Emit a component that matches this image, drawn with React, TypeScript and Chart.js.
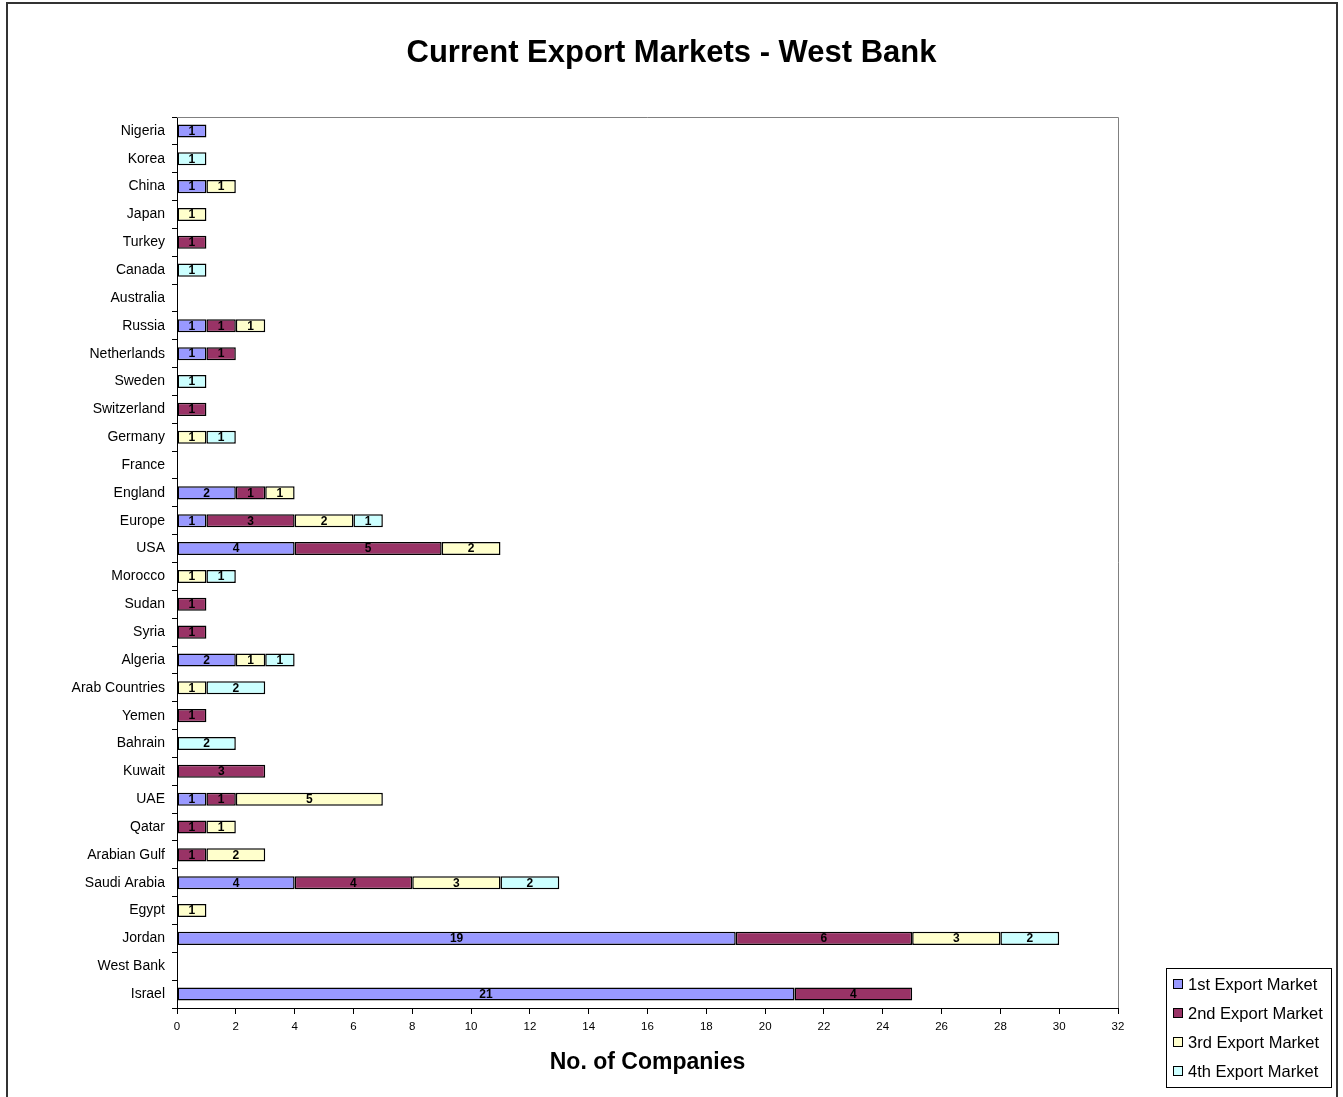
import React, { useEffect, useRef } from "react";
import { Chart, registerables } from "chart.js";

Chart.register(...registerables);

const countries = [
  "Nigeria", "Korea", "China", "Japan", "Turkey", "Canada", "Australia", "Russia",
  "Netherlands", "Sweden", "Switzerland", "Germany", "France", "England", "Europe", "USA",
  "Morocco", "Sudan", "Syria", "Algeria", "Arab Countries", "Yemen", "Bahrain", "Kuwait",
  "UAE", "Qatar", "Arabian Gulf", "Saudi Arabia", "Egypt", "Jordan", "West Bank", "Israel",
];

const firstMarket = [1, 0, 1, 0, 0, 0, 0, 1, 1, 0, 0, 0, 0, 2, 1, 4, 0, 0, 0, 2, 0, 0, 0, 0, 1, 0, 0, 4, 0, 19, 0, 21];
const secondMarket = [0, 0, 0, 0, 1, 0, 0, 1, 1, 0, 1, 0, 0, 1, 3, 5, 0, 1, 1, 0, 0, 1, 0, 3, 1, 1, 1, 4, 0, 6, 0, 4];
const thirdMarket = [0, 0, 1, 1, 0, 0, 0, 1, 0, 0, 0, 1, 0, 1, 2, 2, 1, 0, 0, 1, 1, 0, 0, 0, 5, 1, 2, 3, 1, 3, 0, 0];
const fourthMarket = [0, 1, 0, 0, 0, 1, 0, 0, 0, 1, 0, 1, 0, 0, 1, 0, 1, 0, 0, 1, 2, 0, 2, 0, 0, 0, 0, 2, 0, 2, 0, 0];

const seriesNames = ["1st Export Market", "2nd Export Market", "3rd Export Market", "4th Export Market"];
const seriesColors = ["#9999FF", "#993366", "#FFFFCC", "#CCFFFF"];
const xTicks = { min: 0, max: 32, step: 2 };

const chartTitle = "Current Export Markets - West Bank";
const xTitle = "No. of Companies";

const FONT = "Arial, 'Liberation Sans', sans-serif";

const decorPlugin = {
  id: "decor",
  beforeDraw(chart: any) {
    const ctx = chart.ctx;
    ctx.save();
    ctx.fillStyle = "#ffffff";
    ctx.fillRect(0, 0, chart.width, chart.height);
    ctx.restore();
  },
  beforeDatasetsDraw(chart: any) {
    const { ctx, chartArea } = chart;
    ctx.save();
    ctx.strokeStyle = "#808080";
    ctx.lineWidth = 1;
    ctx.beginPath();
    ctx.moveTo(chartArea.left, chartArea.top + 0.5);
    ctx.lineTo(chartArea.right + 0.5, chartArea.top + 0.5);
    ctx.lineTo(chartArea.right + 0.5, chartArea.bottom);
    ctx.stroke();
    ctx.restore();
  },
  afterDraw(chart: any) {
    const { ctx, chartArea } = chart;
    ctx.save();
    // data labels
    ctx.fillStyle = "#000";
    ctx.font = `bold 12px ${FONT}`;
    ctx.textAlign = "center";
    ctx.textBaseline = "middle";
    chart.data.datasets.forEach((ds: any, di: number) => {
      const meta = chart.getDatasetMeta(di);
      meta.data.forEach((el: any, i: number) => {
        const v = ds.data[i];
        if (!v) return;
        const cx = (el.x + el.base) / 2;
        ctx.fillText(String(v), cx, el.y + 0.5);
      });
    });

    // title
    ctx.font = `bold 31px ${FONT}`;
    ctx.textAlign = "center";
    ctx.textBaseline = "middle";
    ctx.fillText(chartTitle, chart.width / 2, 53);

    // x title
    ctx.font = `bold 23px ${FONT}`;
    ctx.fillText(xTitle, (chartArea.left + chartArea.right) / 2, 1063);

    // legend
    ctx.strokeStyle = "#000";
    ctx.lineWidth = 1;
    ctx.strokeRect(1166.5, 968.5, 165, 119);
    ctx.font = `16.5px ${FONT}`;
    ctx.textAlign = "left";
    seriesNames.forEach((name, i) => {
      const y = 985 + i * 29;
      ctx.fillStyle = seriesColors[i];
      ctx.fillRect(1173.5, y - 5.5, 9, 9);
      ctx.strokeStyle = "#000";
      ctx.strokeRect(1173.5, y - 5.5, 9, 9);
      ctx.fillStyle = "#000";
      ctx.fillText(name, 1188, y);
    });

    // outer border
    ctx.strokeStyle = "#333";
    ctx.lineWidth = 2;
    ctx.strokeRect(7, 3, 1330, 1110);
    ctx.restore();
  },
};

export default function App() {
  const ref = useRef<HTMLCanvasElement | null>(null);
  useEffect(() => {
    if (!ref.current) return;
    const data = [firstMarket, secondMarket, thirdMarket, fourthMarket];
    const chart = new Chart(ref.current, {
      type: "bar",
      data: {
        labels: countries,
        datasets: seriesNames.map((name, i) => ({
          label: name,
          data: data[i],
          backgroundColor: seriesColors[i],
          borderColor: "#000",
          borderWidth: 1.5,
          borderSkipped: false,
          barPercentage: 0.47,
          categoryPercentage: 1,
        })),
      },
      options: {
        indexAxis: "y",
        responsive: false,
        animation: false,
        devicePixelRatio: 1,
        layout: { padding: { top: 117, right: 225, left: 0, bottom: 0 } },
        plugins: {
          legend: { display: false },
          title: { display: false },
          tooltip: { enabled: false },
        },
        scales: {
          x: {
            stacked: true,
            min: xTicks.min,
            max: xTicks.max,
            afterFit: (s: any) => { s.height = 89; },
            ticks: {
              stepSize: xTicks.step,
              color: "#000",
              font: { family: FONT, size: 11.5 },
              padding: 6,
              maxRotation: 0,
            },
            grid: { drawOnChartArea: false, drawTicks: true, tickLength: 6, color: "#000" },
            border: { color: "#000", width: 1 },
          },
          y: {
            stacked: true,
            afterFit: (s: any) => { s.width = 177; },
            ticks: {
              color: "#000",
              font: { family: FONT, size: 14 },
              padding: 7,
              autoSkip: false,
            },
            grid: { drawOnChartArea: false, drawTicks: true, tickLength: 5, offset: true, color: "#000" },
            border: { color: "#000", width: 1 },
          },
        },
      },
      plugins: [decorPlugin],
    } as any);
    return () => chart.destroy();
  }, []);
  return (
    <div style={{ position: "absolute", left: 0, top: 0, width: 1343, height: 1097, overflow: "hidden" }}>
      <canvas ref={ref} width={1343} height={1097} style={{ display: "block" }} />
    </div>
  );
}
